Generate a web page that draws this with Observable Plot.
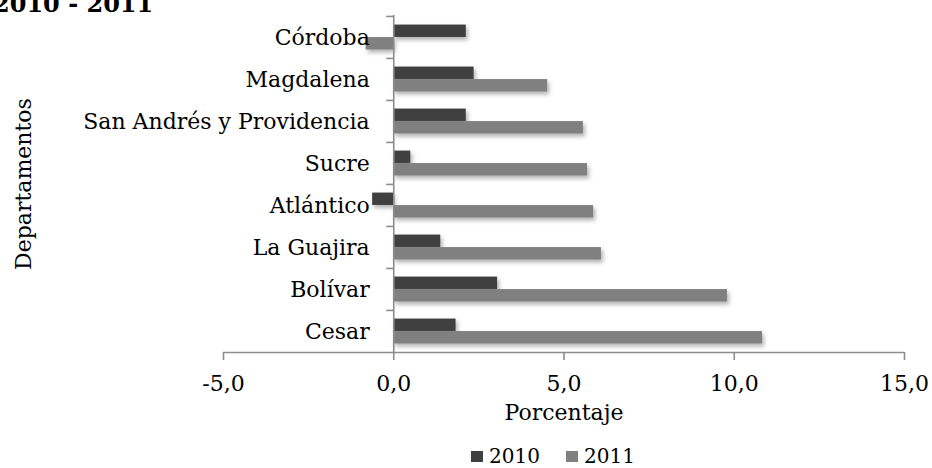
<!DOCTYPE html>
<html>
<head>
<meta charset="utf-8">
<script src="https://cdn.jsdelivr.net/npm/d3@7"></script>
<script src="https://cdn.jsdelivr.net/npm/@observablehq/plot@0.6"></script>
<style>
  html, body { margin: 0; padding: 0; background: #fff; }
  body { width: 932px; height: 468px; position: relative; overflow: hidden; font-family: "DejaVu Serif", serif; }
  #title { position: absolute; left: -7px; top: -11px; font-weight: bold; font-size: 24px; color: #000; white-space: nowrap; z-index: 2; }
  #chart svg g[aria-label="bar"] rect { filter: drop-shadow(2px 3px 2px rgba(0,0,0,0.3)); }
  #legend { position: absolute; left: 0; top: 444px; width: 932px; height: 24px; }
  .item { position: absolute; top: 0; display: flex; align-items: center; font-size: 20px; color: #000; }
  .sw { width: 12px; height: 11px; margin-right: 6px; }
</style>
</head>
<body>
<div id="title"></div>
<div id="chart"></div>
<div id="legend"></div>
<script>
const titulo = "2010 - 2011";
const departamentos = ["Córdoba", "Magdalena", "San Andrés y Providencia", "Sucre", "Atlántico", "La Guajira", "Bolívar", "Cesar"];
const valores2010 = [2.13, 2.36, 2.13, 0.50, -0.62, 1.38, 3.05, 1.83];
const valores2011 = [-0.81, 4.52, 5.57, 5.69, 5.87, 6.10, 9.80, 10.83];
const series = ["2010", "2011"];
const colores = ["#404040", "#808080"];
const xTicks = [-5, 0, 5, 10, 15];
const xDomain = [-5, 15];
const xLabel = "Porcentaje";
const yLabel = "Departamentos";

document.getElementById("title").textContent = titulo;

const W = 932, H = 444, mT = 15, mB = 92, mL = 223, mR = 28;
const band = (H - mT - mB) / departamentos.length;
const pxPerUnit = (W - mL - mR) / (xDomain[1] - xDomain[0]);
const barH = 12.5;
const pad = (band - 2 * barH) / 2;
const gray = "#8c8c8c";

const rows2010 = departamentos.map((d, i) => ({dept: d, value: valores2010[i]}));
const rows2011 = departamentos.map((d, i) => ({dept: d, value: valores2011[i]}));
const fmt = d => d.toFixed(1).replace(".", ",");

const plot = Plot.plot({
  width: W, height: H,
  marginTop: mT, marginBottom: mB, marginLeft: mL, marginRight: mR,
  x: {domain: xDomain, axis: null},
  y: {domain: departamentos, axis: null, padding: 0},
  style: {fontFamily: "DejaVu Serif", fontSize: "22px", color: "#000", background: "#fff", overflow: "visible"},
  marks: [
    Plot.barX(rows2010, {x: "value", y: "dept", fill: colores[0], insetTop: pad, insetBottom: pad + barH}),
    Plot.barX(rows2011, {x: "value", y: "dept", fill: colores[1], insetTop: pad + barH, insetBottom: pad}),
    Plot.ruleX([0], {stroke: gray, strokeWidth: 1.6}),
    Plot.ruleY(departamentos, {y: d => d, x1: -7 / pxPerUnit, x2: 0, dy: -band / 2, stroke: gray, strokeWidth: 1.6}),
    Plot.ruleY(departamentos.slice(-1), {y: d => d, x1: xDomain[0], x2: xDomain[1], dy: band / 2, stroke: gray, strokeWidth: 1.6}),
    Plot.axisX({ticks: xTicks, tickSize: 8, tickFormat: () => "", label: null, stroke: gray, strokeWidth: 1.6}),
    Plot.axisX({ticks: xTicks, tickSize: 0, tickPadding: 23, tickFormat: fmt, label: null, fontSize: 22, fill: "#000"}),
    Plot.text(departamentos, {x: 0, y: d => d, text: d => d, textAnchor: "end", dx: -24, fontSize: 22, fill: "#000"}),
    Plot.text([xLabel], {frameAnchor: "bottom", text: d => d, dy: 67, fontSize: 22, fill: "#000"}),
    Plot.text([yLabel], {frameAnchor: "left", text: d => d, textAnchor: "middle", rotate: -90, dx: -200, fontSize: 22, fill: "#000"})
  ]
});
document.getElementById("chart").appendChild(plot);

const legend = document.getElementById("legend");
const lx = [471, 566];
series.forEach((s, i) => {
  const it = document.createElement("div");
  it.className = "item";
  it.style.left = lx[i] + "px";
  const sw = document.createElement("div");
  sw.className = "sw";
  sw.style.background = colores[i];
  const t = document.createElement("span");
  t.textContent = s;
  it.appendChild(sw);
  it.appendChild(t);
  legend.appendChild(it);
});
</script>
</body>
</html>
